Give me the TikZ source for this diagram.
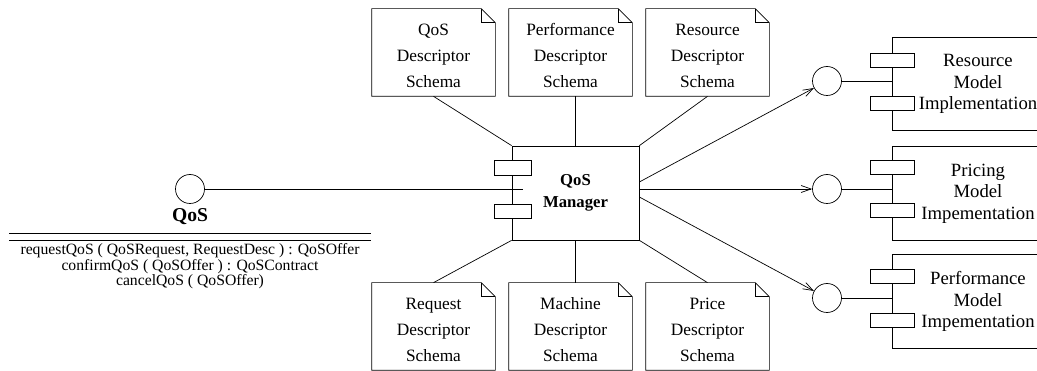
\documentclass[tikz,border=0pt]{standalone}
\usepackage{fontspec}
\setmainfont{Liberation Serif}
\usetikzlibrary{arrows.meta,positioning,calc}
\newcommand\notetop{\rule{0pt}{19pt}}
\tikzset{
  >={Straight Barb[length=10pt,width=7pt]},
  every node/.style={font=\fontsize{17.3}{26}\selectfont},
  note/.style={minimum width=123pt,minimum height=87pt,inner sep=0pt,align=center},
  mgrbox/.style={draw,minimum width=127pt,minimum height=94pt,inner sep=0pt,align=center,
                 font=\fontsize{16.7}{22}\selectfont\bfseries},
  impl/.style={draw,minimum width=172pt,minimum height=93.5pt,inner sep=0pt,align=center,
               font=\fontsize{18.7}{21.5}\selectfont},
  mport/.style={draw,fill=white,minimum width=37pt,minimum height=14.5pt,inner sep=0pt},
  cport/.style={draw,fill=white,minimum width=44pt,minimum height=14pt,inner sep=0pt},
  iface/.style={draw,circle,minimum size=29pt,inner sep=0pt},
  flow/.style={->},
}

\begin{document}
\begin{tikzpicture}[x=1pt,y=1pt,line width=0.7pt]
  \useasboundingbox (0,0) rectangle (1037,-371);
  \clip (0,0) rectangle (1037,-371);

  % descriptor schemas (column centres: 433.5, 570.5, 707.5)
  \node[note] (qd) at (433.5,-52.5) {\notetop QoS\\Descriptor\\Schema};
  \node[note] (pd) at (570.5,-52.5) {\notetop Performance\\Descriptor\\Schema};
  \node[note] (rd) at (707.5,-52.5) {\notetop Resource\\Descriptor\\Schema};
  \node[note] (rq) at (433.5,-326.5) {\notetop Request\\Descriptor\\Schema};
  \node[note] (md) at (570.5,-326.5) {\notetop Machine\\Descriptor\\Schema};
  \node[note] (cd) at (707.5,-326.5) {\notetop Price\\Descriptor\\Schema};

  \foreach \n in {qd,pd,rd,rq,md,cd}{
    \draw (\n.south west) -- (\n.north west) -- ([xshift=-14pt]\n.north east)
          -- ([yshift=-14pt]\n.north east) -- (\n.south east) -- cycle;
    \draw ([xshift=-14pt]\n.north east) |- ([yshift=-14pt]\n.north east);
  }

  % manager
  \node[mgrbox] (mgr) at (575.5,-193) {QoS\\Manager};
  \node[mport] (mp1) at (512.5,-168) {};
  \node[mport] (mp2) at (512.5,-211.5) {};
  \coordinate (mgrjack) at (523,-189);

  % offered interface
  \node[iface] (qosif) at (190,-189) {};
  \node[font=\fontsize{19.6}{22}\selectfont\bfseries] (qosname) at (190,-217) {QoS};
  \draw (9,-233) -- (371,-233);
  \draw (9,-240) -- (371,-240);
  \node[align=center,font=\fontsize{15.7}{15.5}\selectfont] (qosops) at (190,-266.5)
    {requestQoS ( QoSRequest, RequestDesc ) : QoSOffer\\
     confirmQoS ( QoSOffer ) : QoSContract\\
     cancelQoS ( QoSOffer)};
  \draw (qosif) -- (mgrjack);

  % model implementations
  \node[impl] (rm) at (978,-84)    {Resource\\Model\\Implementation};
  \node[impl] (pm) at (978,-193.5) {Pricing\\Model\\Impementation};
  \node[impl] (fm) at (978,-301.5) {Performance\\Model\\Impementation};
  \node[cport] (rp1) at (892,-60)    {};
  \node[cport] (rp2) at (892,-103.5) {};
  \node[cport] (pp1) at (892,-167.5) {};
  \node[cport] (pp2) at (892,-210)   {};
  \node[cport] (fp1) at (892,-276)   {};
  \node[cport] (fp2) at (892,-320)   {};

  \node[iface] (rc) at (827,-81)  {};
  \node[iface] (pc) at (827,-189) {};
  \node[iface] (fc) at (827,-298) {};
  \draw (rc) -- (rc -| rm.west);
  \draw (pc) -- (pc -| pm.west);
  \draw (fc) -- (fc -| fm.west);

  % schema links
  \draw (qd.south) -- (mgr.north west);
  \draw (mgr.north) -- (mgr.north |- pd.south);
  \draw (rd.south) -- (mgr.north east);
  \draw (rq.north) -- (mgr.south west);
  \draw (mgr.south) -- (mgr.south |- md.north);
  \draw (cd.north) -- (mgr.south east);

  % uses
  \draw[flow] ([yshift=11pt]mgr.east) -- (rc);
  \draw[flow] (mgr.east |- pc) -- (pc);
  \draw[flow] ([yshift=-4pt]mgr.east) -- (fc);
\end{tikzpicture}
\end{document}
